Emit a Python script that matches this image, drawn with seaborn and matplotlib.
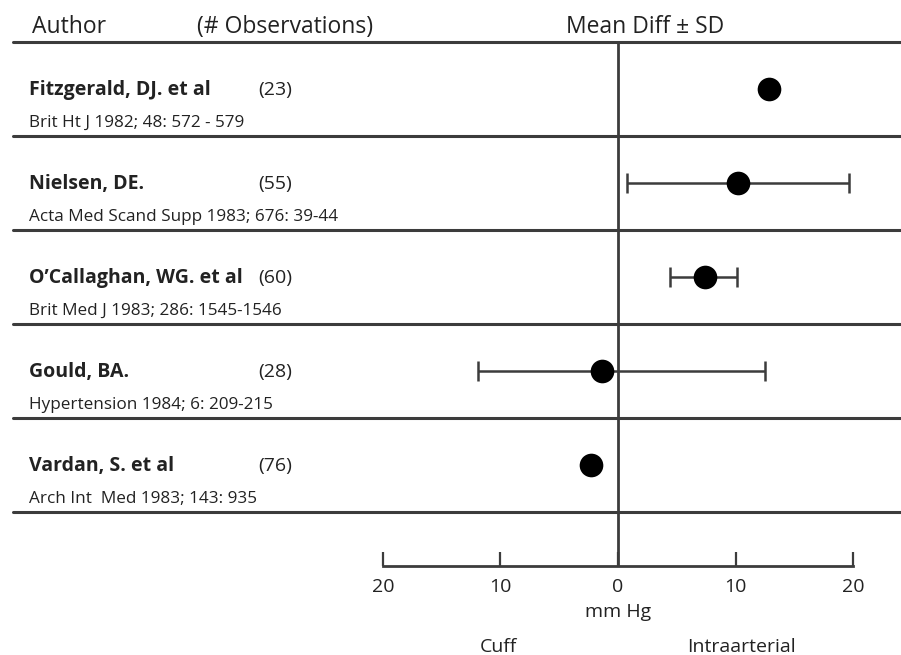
import numpy as np
import pandas as pd
import matplotlib
matplotlib.use("Agg")
import matplotlib.pyplot as plt
import seaborn as sns

# ---- data ----
authors = ["Fitzgerald, DJ. et al", "Nielsen, DE.", "O\u2019Callaghan, WG. et al",
           "Gould, BA.", "Vardan, S. et al"]
citations = ["Brit Ht J 1982; 48: 572 - 579", "Acta Med Scand Supp 1983; 676: 39-44",
             "Brit Med J 1983; 286: 1545-1546", "Hypertension 1984; 6: 209-215",
             "Arch Int  Med 1983; 143: 935"]
n_obs = [23, 55, 60, 28, 76]
mean_diff = [12.8, 10.2, 7.4, -1.4, -2.3]
sd_low = [np.nan, 0.8, 4.4, -11.9, np.nan]
sd_high = [np.nan, 19.6, 10.1, 12.5, np.nan]
tick_values = [-20, -10, 0, 10, 20]
tick_labels = ["20", "10", "0", "10", "20"]

df = pd.DataFrame({"author": authors, "citation": citations, "n": n_obs,
                   "mean": mean_diff, "low": sd_low, "high": sd_high})
df["row"] = np.arange(len(df))

sns.set_theme(style="white")
plt.rcParams['font.family'] = ['Open Sans', 'DejaVu Sans']

LINE = "#3c3c3c"
TXT = "#222222"

fig = plt.figure(figsize=(9.01, 6.55), dpi=100)
ax = fig.add_axes([0, 0, 1, 1])

# row separators
for b in np.arange(-0.5, len(df)):
    ax.axhline(b, xmin=13 / 901, xmax=1, color=LINE, lw=2.2, zorder=1)

axis_y = 5.07
ax.vlines(0, -0.5, axis_y, color=LINE, lw=2.0, zorder=1)

# error bars
m = df["low"].notna()
ax.errorbar(df.loc[m, "mean"], df.loc[m, "row"],
            xerr=[df.loc[m, "mean"] - df.loc[m, "low"], df.loc[m, "high"] - df.loc[m, "mean"]],
            fmt="none", ecolor=LINE, elinewidth=1.8, capsize=7.2, capthick=1.8, zorder=3)

sns.scatterplot(data=df, x="mean", y="row", s=290, color="black", edgecolor="black",
                linewidth=0, zorder=5, ax=ax, legend=False)

ax.set_xlim(-52.55, 24.06)
ax.set_ylim(6.02, -0.947)

# axis
for s in ["top", "left", "right"]:
    ax.spines[s].set_visible(False)
ax.spines["bottom"].set_position(("data", axis_y))
ax.spines["bottom"].set_bounds(-20, 20)
ax.spines["bottom"].set_linewidth(2.0)
ax.spines["bottom"].set_color(LINE)
ax.set_xticks(tick_values)
ax.set_xticklabels(tick_labels)
ax.tick_params(axis="x", direction="in", length=10, width=1.6, pad=9,
               labelsize=14, colors=LINE, labelcolor=TXT, bottom=True)
ax.set_yticks([])
ax.set_ylabel("")
ax.set_xlabel("")

ytr = ax.get_yaxis_transform()
# headers
ax.text(32 / 901, -0.66, "Author", transform=ytr, fontsize=16.5, color=TXT, va="center", ha="left")
ax.text(197 / 901, -0.66, "(# Observations)", transform=ytr, fontsize=16.5, color=TXT, va="center", ha="left")
ax.text(2.3, -0.66, "Mean Diff \u00b1 SD", fontsize=16.5, color=TXT, va="center", ha="center")

for _, r in df.iterrows():
    ax.text(29 / 901, r["row"] + 0.01, r["author"], transform=ytr, fontsize=14,
            fontweight="bold", color=TXT, va="center", ha="left")
    ax.text(258 / 901, r["row"] + 0.01, f"({r['n']})", transform=ytr, fontsize=14,
            color=TXT, va="center", ha="left")
    ax.text(29 / 901, r["row"] + 0.36, r["citation"], transform=ytr, fontsize=12.3,
            color=TXT, va="center", ha="left")

ax.text(0, 5.56, "mm Hg", fontsize=14, color=TXT, va="center", ha="center")
ax.text(-10.2, 5.93, "Cuff", fontsize=14, color=TXT, va="center", ha="center")
ax.text(10.5, 5.93, "Intraarterial", fontsize=14, color=TXT, va="center", ha="center")

fig.savefig("out.png", dpi=100)
